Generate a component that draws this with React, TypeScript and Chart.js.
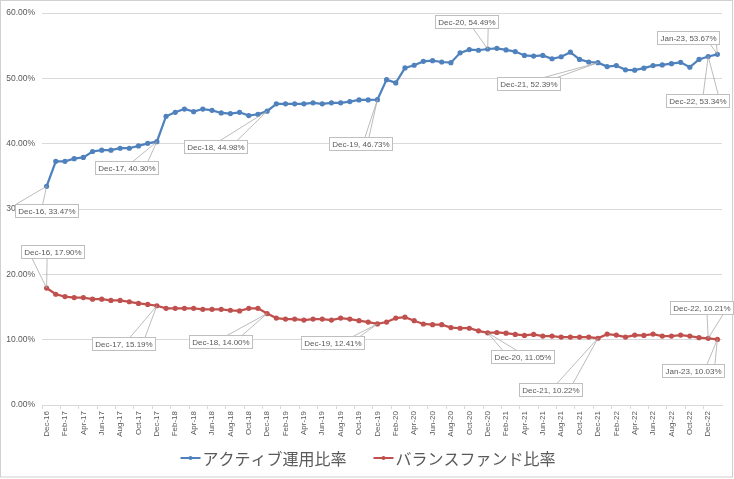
import React, { useEffect, useRef } from "react";
import { Chart, registerables } from "chart.js";

Chart.register(...registerables);

const categories = [
  "Dec-16",
  "Jan-17", "Feb-17", "Mar-17", "Apr-17", "May-17", "Jun-17", "Jul-17", "Aug-17", "Sep-17", "Oct-17", "Nov-17", "Dec-17",
  "Jan-18", "Feb-18", "Mar-18", "Apr-18", "May-18", "Jun-18", "Jul-18", "Aug-18", "Sep-18", "Oct-18", "Nov-18", "Dec-18",
  "Jan-19", "Feb-19", "Mar-19", "Apr-19", "May-19", "Jun-19", "Jul-19", "Aug-19", "Sep-19", "Oct-19", "Nov-19", "Dec-19",
  "Jan-20", "Feb-20", "Mar-20", "Apr-20", "May-20", "Jun-20", "Jul-20", "Aug-20", "Sep-20", "Oct-20", "Nov-20", "Dec-20",
  "Jan-21", "Feb-21", "Mar-21", "Apr-21", "May-21", "Jun-21", "Jul-21", "Aug-21", "Sep-21", "Oct-21", "Nov-21", "Dec-21",
  "Jan-22", "Feb-22", "Mar-22", "Apr-22", "May-22", "Jun-22", "Jul-22", "Aug-22", "Sep-22", "Oct-22", "Nov-22", "Dec-22",
  "Jan-23",
];

const activeRatio = [
  33.47,
  37.3, 37.3, 37.7, 37.9, 38.8, 39.0, 39.0, 39.3, 39.3, 39.65, 40.05, 40.3,
  44.2, 44.8, 45.3, 44.9, 45.3, 45.1, 44.7, 44.6, 44.8, 44.3, 44.5, 44.98,
  46.1, 46.1, 46.1, 46.1, 46.25, 46.1, 46.25, 46.25, 46.45, 46.7, 46.7, 46.73,
  49.8, 49.3, 51.6, 52.0, 52.6, 52.7, 52.5, 52.4, 53.9, 54.4, 54.3, 54.49,
  54.6, 54.35, 54.1, 53.5, 53.4, 53.5, 53.0, 53.3, 54.0, 52.9, 52.5, 52.39,
  51.8, 51.95, 51.3, 51.25, 51.55, 51.95, 52.05, 52.25, 52.45, 51.7, 52.9, 53.34,
  53.67,
];

const balancedRatio = [
  17.9,
  16.95, 16.6, 16.45, 16.45, 16.2, 16.2, 16.0, 16.0, 15.8, 15.55, 15.4, 15.19,
  14.8, 14.8, 14.8, 14.8, 14.65, 14.65, 14.65, 14.5, 14.4, 14.8, 14.8, 14.0,
  13.3, 13.15, 13.15, 13.0, 13.15, 13.15, 13.0, 13.3, 13.15, 12.9, 12.7, 12.41,
  12.7, 13.3, 13.45, 12.9, 12.4, 12.3, 12.3, 11.85, 11.75, 11.75, 11.35, 11.05,
  11.1, 11.0, 10.8, 10.65, 10.8, 10.55, 10.55, 10.4, 10.4, 10.4, 10.4, 10.22,
  10.85, 10.7, 10.4, 10.7, 10.65, 10.85, 10.55, 10.55, 10.7, 10.55, 10.3, 10.21,
  10.03,
];

const seriesNames = ["アクティブ運用比率", "バランスファンド比率"];
const seriesColors = ["#4f81bd", "#c0504d"];

const yMin = 0;
const yMax = 60;
const yStep = 10;

// Indices of the points that carry a data-label callout
const labelledIndices = [0, 12, 24, 36, 48, 60, 72, 73];

// Callout placement (pixel offsets of the box centre from its point, wedge base offsets along the box edge)
const activeCallouts = [
  { dx: 0, dy: 24, b1: -31, b2: -4 },
  { dx: -30, dy: 26, b1: 6, b2: 21 },
  { dx: -52, dy: 35, b1: 5, b2: 22 },
  { dx: -16.5, dy: 43.6, b1: 4, b2: 8 },
  { dx: -21, dy: -27, b1: 6.5, b2: 21.5 },
  { dx: -69, dy: 20.7, b1: 15, b2: 28 },
  { dx: -11, dy: 44, b1: 6, b2: 21 },
  { dx: -29, dy: -16.5, b1: 22, b2: 28 },
];
const balancedCallouts = [
  { dx: 6, dy: -37, b1: -20.5, b2: -5.5 },
  { dx: -33.4, dy: 37.5, b1: 6.5, b2: 21.5 },
  { dx: -46.7, dy: 27.7, b1: 6.5, b2: 21.5 },
  { dx: -44.5, dy: 18.8, b1: 20, b2: 27 },
  { dx: 34.7, dy: 24, b1: -19.5, b2: -5.5 },
  { dx: -47, dy: 51, b1: 6, b2: 22 },
  { dx: -6.7, dy: -31, b1: 5.5, b2: 21.5 },
  { dx: -24, dy: 31, b1: 13.5, b2: 21.5 },
];

const TEXT = "#595959";
const GRID = "#d9d9d9";
const FONT = "'Liberation Sans', Arial, sans-serif";
const CJK = "'Noto Sans CJK JP', 'Noto Sans', sans-serif";

const framePlugin = {
  id: "frame",
  beforeDraw(chart: any) {
    const { ctx, width, height } = chart;
    ctx.save();
    ctx.fillStyle = "#ffffff";
    ctx.fillRect(0, 0, width, height);
    ctx.strokeStyle = "#d0d0d0";
    ctx.lineWidth = 1;
    ctx.strokeRect(0.5, 0.5, width - 2, height - 2.5);
    ctx.restore();
  },
};

const calloutPlugin = {
  id: "callouts",
  afterDatasetsDraw(chart: any) {
    const { ctx } = chart;
    const layouts = [activeCallouts, balancedCallouts];
    ctx.save();
    ctx.font = `8px ${FONT}`;
    chart.data.datasets.forEach((ds: any, di: number) => {
      const meta = chart.getDatasetMeta(di);
      labelledIndices.forEach((idx, k) => {
        const el = meta.data[idx];
        if (!el) return;
        const c = layouts[di][k];
        const text = `${chart.data.labels[idx]}, ${Number(ds.data[idx]).toFixed(2)}%`;
        const tw = ctx.measureText(text).width;
        const w = Math.round(tw + 6);
        const h = 13;
        const cx = el.x + c.dx;
        const cy = el.y + c.dy;
        const left = Math.round(cx - w / 2) + 0.5;
        const top = Math.round(cy - h / 2) + 0.5;
        const edgeY = c.dy > 0 ? top : top + h;
        ctx.strokeStyle = "#a6a6a6";
        ctx.lineWidth = 0.75;
        ctx.beginPath();
        ctx.moveTo(el.x, el.y);
        ctx.lineTo(cx + c.b1, edgeY);
        ctx.moveTo(el.x, el.y);
        ctx.lineTo(cx + c.b2, edgeY);
        ctx.stroke();
        ctx.fillStyle = "#ffffff";
        ctx.fillRect(left, top, w, h);
        ctx.strokeStyle = "#bfbfbf";
        ctx.lineWidth = 1;
        ctx.strokeRect(left, top, w, h);
        ctx.fillStyle = TEXT;
        ctx.textAlign = "center";
        ctx.textBaseline = "middle";
        ctx.fillText(text, left + w / 2, top + h / 2 + 0.5);
      });
    });
    ctx.restore();
  },
};

const legendPlugin = {
  id: "customLegend",
  afterDraw(chart: any) {
    const { ctx, width } = chart;
    const y = 458;
    const markerW = 20;
    const gap = 2;
    const spacing = 27;
    ctx.save();
    ctx.font = `16px ${CJK}`;
    const items = chart.data.datasets.map((ds: any) => ({
      label: ds.label,
      color: ds.borderColor,
      tw: ctx.measureText(ds.label).width,
    }));
    const total =
      items.reduce((s: number, it: any) => s + markerW + gap + it.tw, 0) +
      spacing * (items.length - 1);
    let x = width / 2 - total / 2 + 1;
    items.forEach((it: any) => {
      ctx.strokeStyle = it.color;
      ctx.lineWidth = 2;
      ctx.beginPath();
      ctx.moveTo(x, y);
      ctx.lineTo(x + markerW, y);
      ctx.stroke();
      ctx.fillStyle = it.color;
      ctx.beginPath();
      ctx.arc(x + markerW / 2, y, 2, 0, Math.PI * 2);
      ctx.fill();
      ctx.fillStyle = TEXT;
      ctx.textAlign = "left";
      ctx.textBaseline = "middle";
      ctx.fillText(it.label, x + markerW + gap, y + 1);
      x += markerW + gap + it.tw + spacing;
    });
    ctx.restore();
  },
};

export default function App() {
  const canvasRef = useRef<HTMLCanvasElement | null>(null);

  useEffect(() => {
    if (!canvasRef.current) return;
    const chart = new Chart(canvasRef.current, {
      type: "line",
      data: {
        labels: categories,
        datasets: [
          {
            label: seriesNames[0],
            data: activeRatio,
            borderColor: seriesColors[0],
            backgroundColor: seriesColors[0],
            borderWidth: 2.25,
            pointRadius: 2.6,
            pointBorderWidth: 0,
            pointBackgroundColor: seriesColors[0],
            tension: 0,
          },
          {
            label: seriesNames[1],
            data: balancedRatio,
            borderColor: seriesColors[1],
            backgroundColor: seriesColors[1],
            borderWidth: 2.25,
            pointRadius: 2.6,
            pointBorderWidth: 0,
            pointBackgroundColor: seriesColors[1],
            tension: 0,
          },
        ],
      },
      options: {
        animation: false,
        responsive: false,
        maintainAspectRatio: false,
        layout: { padding: { top: 13, right: 12, bottom: 34, left: 0 } },
        plugins: {
          legend: { display: false },
          tooltip: { enabled: false },
        },
        scales: {
          x: {
            type: "category",
            offset: true,
            afterFit(scale: any) {
              scale.height = 40;
            },
            grid: {
              drawOnChartArea: false,
              drawTicks: true,
              tickLength: 4,
              offset: true,
              color: (c: any) => (c.index % 2 === 0 ? GRID : "rgba(0,0,0,0)"),
            },
            border: { display: true, color: GRID, width: 1 },
            ticks: {
              autoSkip: false,
              minRotation: 90,
              maxRotation: 90,
              padding: 2,
              color: TEXT,
              font: { family: FONT, size: 8 },
              callback: (_v: any, i: number) => (i % 2 === 0 ? categories[i] : ""),
            },
          },
          y: {
            min: yMin,
            max: yMax,
            afterFit(scale: any) {
              scale.width = 42;
            },
            grid: { color: GRID, drawTicks: false, lineWidth: 1 },
            border: { display: false },
            ticks: {
              stepSize: yStep,
              padding: 7,
              color: TEXT,
              font: { family: FONT, size: 8.5 },
              callback: (v: any) => `${Number(v).toFixed(2)}%`,
            },
          },
        },
      },
      plugins: [framePlugin, calloutPlugin, legendPlugin],
    } as any);
    return () => chart.destroy();
  }, []);

  return (
    <div style={{ position: "absolute", left: 0, top: 0, width: 734, height: 479, background: "#fff" }}>
      <canvas ref={canvasRef} width={734} height={479} style={{ display: "block", width: 734, height: 479 }} />
    </div>
  );
}
